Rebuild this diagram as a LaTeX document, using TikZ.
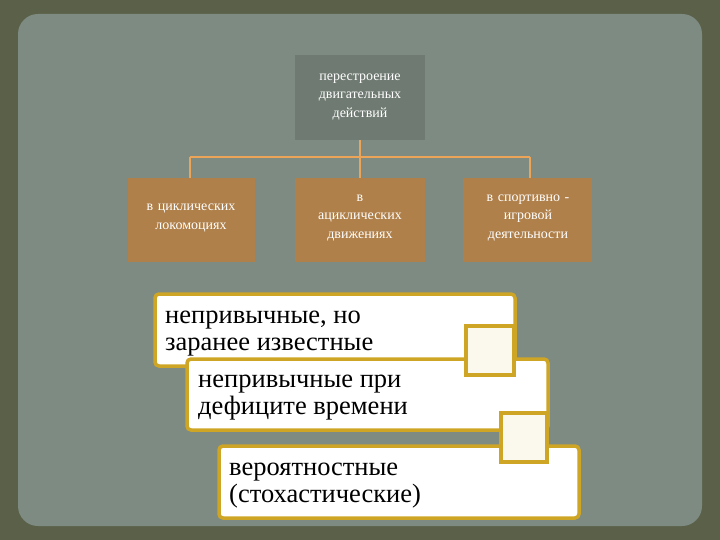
\documentclass[tikz,border=0pt]{standalone}
\usepackage{fontspec}
\setmainfont{Liberation Serif}
\begin{document}
\begin{tikzpicture}[x=1pt,y=-1pt,
  lbl/.style={text=white,align=center,font=\fontsize{14}{18.5}\selectfont,text width=130pt},
  wbox/.style={fill=white,draw=goldc,line width=3.5pt,rounded corners=4pt},
  btxt/.style={anchor=north west,align=left,font=\fontsize{26.5}{27}\selectfont,inner sep=0pt},
  conn/.style={draw=orangec,line width=2.2pt}]
\definecolor{outer}{HTML}{5B6149}
\definecolor{panel}{HTML}{7E8B82}
\definecolor{tanc}{HTML}{B0804A}
\definecolor{goldc}{HTML}{CFA526}
\definecolor{orangec}{HTML}{EBA458}
\useasboundingbox (0,0) rectangle (720,540);
\fill[outer] (0,0) rectangle (720,540);
\fill[panel,rounded corners=20pt] (18,14) rectangle (702,526);
\fill[panel!88!black] (295,55) rectangle (425,140);
\node[lbl] (t) at (360,97) {перестроение\\двигательных\\действий};
\fill[tanc] (128,178) rectangle (255,262);
\fill[tanc] (295,178) rectangle (425,262);
\fill[tanc] (463,178) rectangle (592,262);
\node[lbl] (a) at (191,218) {в циклических\\локомоциях};
\node[lbl] (b) at (360,218) {в\\ациклических\\движениях};
\node[lbl] (c) at (528,218) {в спортивно -\\игровой\\деятельности};
\coordinate (j) at (360,157);
\coordinate (ja) at (190,157);
\coordinate (jc) at (530,157);
\draw[conn] (360,140) -- (j);
\draw[conn] (ja) -- (jc);
\draw[conn] (ja) -- (190,178);
\draw[conn] (j) -- (360,178);
\draw[conn] (jc) -- (530,178);
\draw[wbox] (155,294) rectangle (515,366);
\node[btxt] (p1) at (165,311) {непривычные, но\\заранее известные};
\draw[wbox] (187,359) rectangle (548,430);
\node[btxt] (p2) at (198,375) {непривычные при\\дефиците времени};
\draw[wbox,rounded corners=0pt,fill=white!92!goldc] (466,326) rectangle (514,375);
\draw[wbox] (219,446) rectangle (579,518);
\node[btxt] (p3) at (229,463) {вероятностные\\(стохастические)};
\draw[wbox,rounded corners=0pt,fill=white!92!goldc] (501,413) rectangle (547,462);
\end{tikzpicture}
\end{document}
